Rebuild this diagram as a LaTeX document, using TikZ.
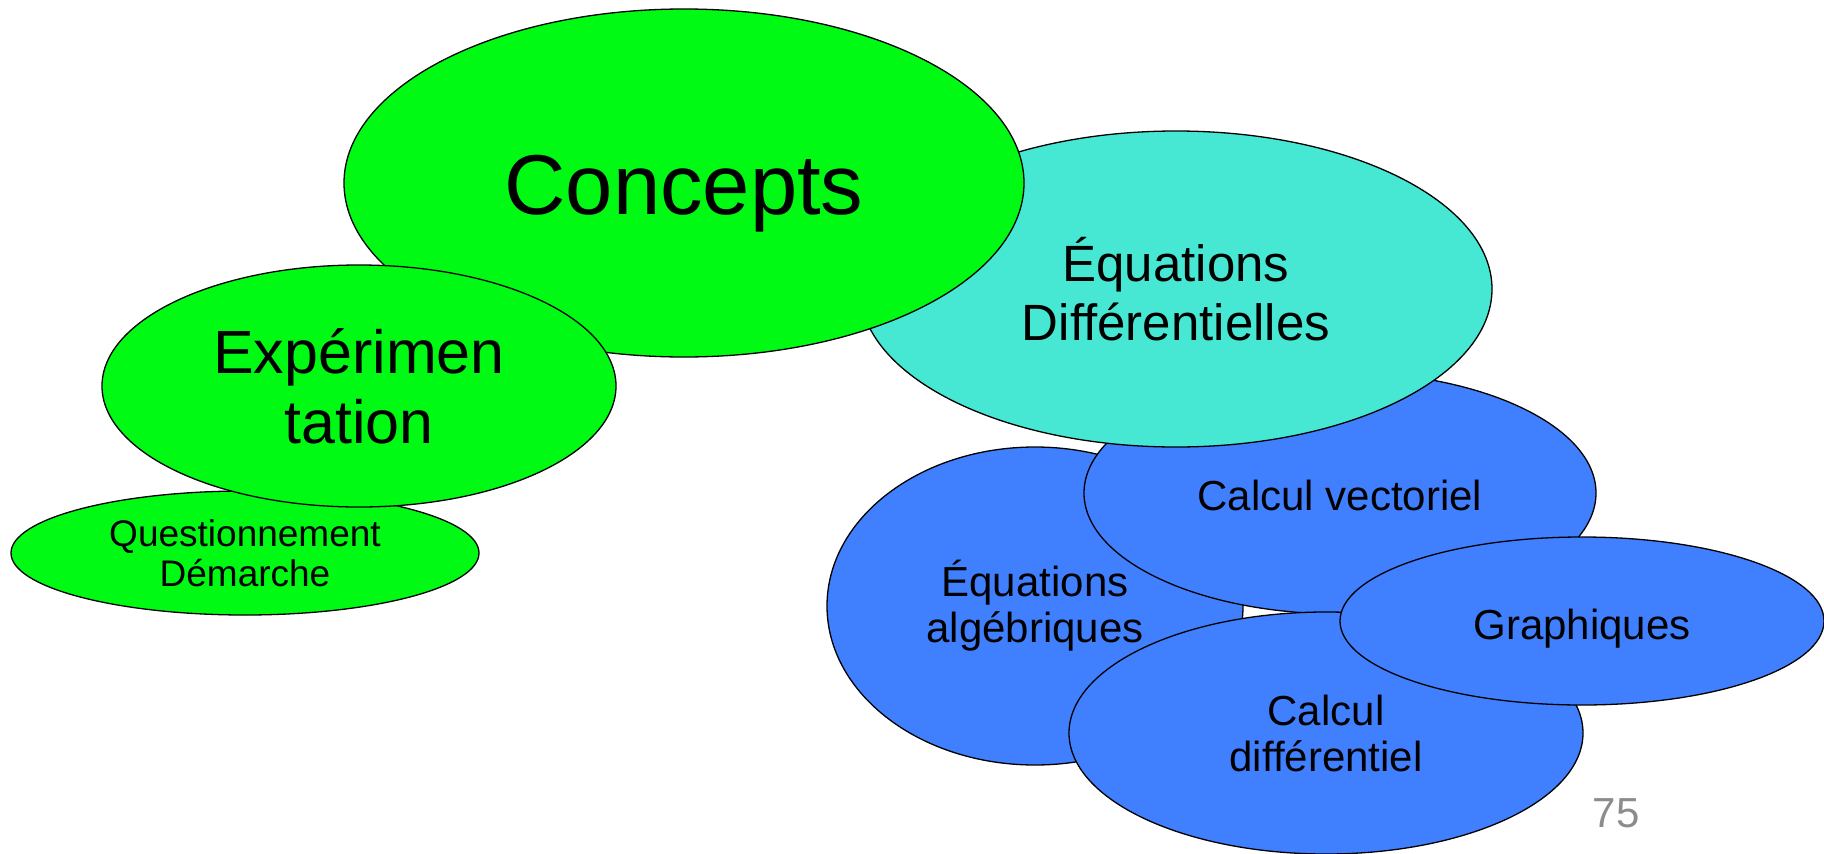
\documentclass[tikz,border=0pt]{standalone}
\usepackage{fontspec}
\setmainfont{Liberation Sans}
\usetikzlibrary{shapes.geometric}
\definecolor{cgreen}{RGB}{0,250,20}
\definecolor{ccyan}{RGB}{70,232,212}
\definecolor{cblue}{RGB}{64,128,255}
\definecolor{cgray}{RGB}{140,140,140}
\tikzset{
  blob/.style={ellipse, draw=black, line width=1.3pt, inner sep=0pt, align=center},
  bluebox/.style={blob, fill=cblue, font=\fontsize{42}{46}\selectfont},
}
\begin{document}
\begin{tikzpicture}[x=1pt,y=-1pt]
\useasboundingbox (0,0) rectangle (1824,854);
% blue group
\node[bluebox, minimum width=416, minimum height=318] (alg) at (1035,606) {Équations\\algébriques};
\node[bluebox, minimum width=512, minimum height=242, text height=35pt, text depth=0pt] (vec) at (1340,493) {Calcul vectoriel};
\node[bluebox, minimum width=514, minimum height=242] (dif) at (1326,733) {Calcul\\différentiel};
\node[bluebox, minimum width=484, minimum height=168, text height=45pt, text depth=9pt] (gra) at (1582,621) {Graphiques};
% cyan
\node[blob, fill=ccyan, minimum width=632, minimum height=316, font=\fontsize{51}{59}\selectfont] (ed) at (1176,289) {Équations\\Différentielles};
% green group
\node[blob, fill=cgreen, minimum width=680, minimum height=348, font=\fontsize{85}{85}\selectfont, text height=80pt, text depth=18pt] (con) at (684,183) {Concepts};
\node[blob, fill=cgreen, minimum width=468, minimum height=124, font=\fontsize{37}{40}\selectfont] (que) at (245,553) {Questionnement\\Démarche};
\node[blob, fill=cgreen, minimum width=514, minimum height=242, font=\fontsize{61}{70}\selectfont] (exp) at (359,386) {Expérimen\\tation};
% page number
\node[text=cgray, font=\fontsize{42}{42}\selectfont, inner sep=0pt] (pg) at (1616,813) {75};
\end{tikzpicture}
\end{document}
